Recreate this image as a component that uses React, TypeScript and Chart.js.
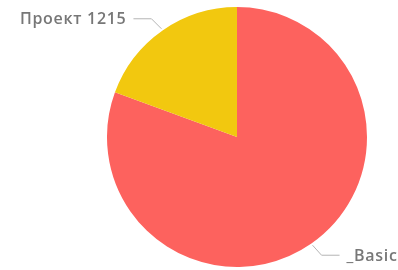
import React, { useEffect, useRef } from "react";
import { Chart, registerables } from "chart.js";

Chart.register(...registerables);

const categories = ["_Basic", "Проект 1215"];
const values = [80.6, 19.4];
const colors = ["#FD625E", "#F2C80F"];

const labelPlugin = {
  id: "leaderLabels",
  afterDraw(chart: any) {
    const ctx = chart.ctx;
    const meta = chart.getDatasetMeta(0);
    ctx.save();
    ctx.font = "600 16px 'Open Sans', sans-serif";
    try {
      (ctx as any).letterSpacing = "0.7px";
    } catch (e) {}
    ctx.textBaseline = "middle";
    meta.data.forEach((arc: any, i: number) => {
      const { x, y, startAngle, endAngle, outerRadius } = arc.getProps(
        ["x", "y", "startAngle", "endAngle", "outerRadius"],
        true
      );
      const mid = (startAngle + endAngle) / 2;
      const cos = Math.cos(mid);
      const sin = Math.sin(mid);
      const p0x = x + cos * (outerRadius + 2);
      const p0y = y + sin * (outerRadius + 2);
      const right = cos >= 0;
      const down = sin >= 0;
      const p1x = p0x + (right ? 9 : -10);
      const p1y = p0y + (down ? 10 : -10);
      const p2x = p1x + (right ? 18 : -18);
      ctx.strokeStyle = "#b4b4b4";
      ctx.lineWidth = 1;
      ctx.beginPath();
      ctx.moveTo(p0x, p0y);
      ctx.lineTo(p1x, p1y);
      ctx.lineTo(p2x, p1y);
      ctx.stroke();
      ctx.fillStyle = "#777777";
      ctx.textAlign = right ? "left" : "right";
      ctx.fillText(categories[i], p2x + (right ? 7 : -7), p1y + 1);
    });
    ctx.restore();
  },
};

export default function App() {
  const ref = useRef<HTMLCanvasElement | null>(null);
  useEffect(() => {
    document.body.style.margin = "0";
    const chart = new Chart(ref.current!, {
      type: "pie",
      data: {
        labels: categories,
        datasets: [
          {
            data: values,
            backgroundColor: colors,
            borderWidth: 0,
          },
        ],
      },
      options: {
        responsive: false,
        animation: false,
        layout: { padding: { left: 107, right: 31, top: 7, bottom: 3 } },
        plugins: {
          legend: { display: false },
          tooltip: { enabled: false },
        },
      },
      plugins: [labelPlugin],
    });
    return () => chart.destroy();
  }, []);
  return (
    <div style={{ width: 398, height: 270, background: "#fff" }}>
      <canvas ref={ref} width={398} height={270} />
    </div>
  );
}
